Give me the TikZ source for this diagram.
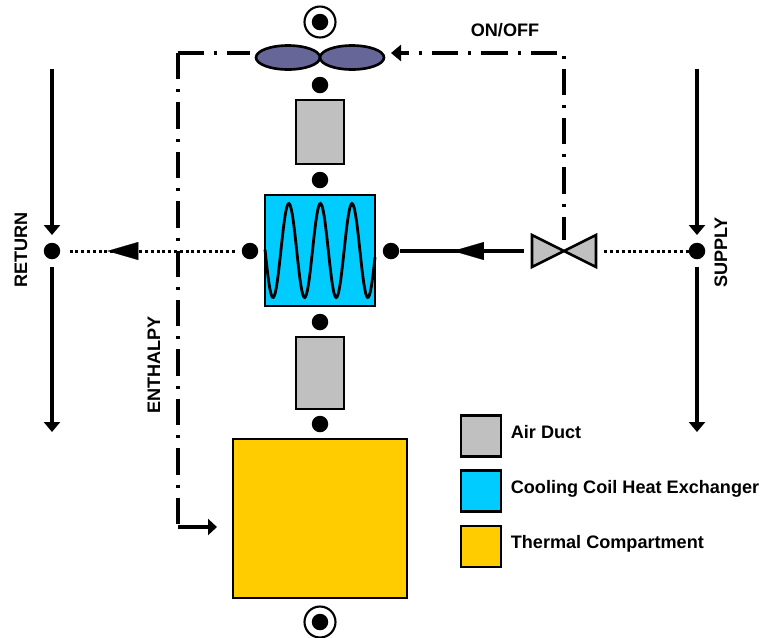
\documentclass[tikz,border=0pt]{standalone}
\usepackage{fontspec}
\setmainfont{Liberation Sans}
\usetikzlibrary{arrows.meta,calc,decorations.markings,shapes.geometric}
\definecolor{ductgray}{HTML}{C0C0C0}
\definecolor{coilblue}{HTML}{00CCFF}
\definecolor{zoneyellow}{HTML}{FFCC00}
\definecolor{fanblue}{HTML}{666699}
\tikzset{
  box/.style={draw=black,line width=1.6pt,inner sep=0pt},
  port/.style={circle,fill=black,inner sep=0pt,minimum size=.33cm},
  ring/.style={circle,draw=black,line width=1.2pt,fill=white,minimum size=.62cm,inner sep=0pt},
  fanblade/.style={box,ellipse,fill=fanblue,minimum width=1.28cm,minimum height=.48cm,line width=1.5pt},
  airline/.style={line width=1.75pt,-{Triangle[length=.2cm,width=.32cm]}},
  signal/.style={line width=1.75pt,dash pattern=on .528cm off .2cm on .06cm off .2cm},
  valvesignal/.style={line width=1.75pt,dash pattern=on .06cm off .2cm on .528cm off .2cm},
  sigtip/.style={-{Triangle[length=.2cm,width=.32cm]}},
  dotline/.style={line width=1.7pt,dash pattern=on .06cm off .056cm},
  midtip/.style={postaction={decorate},decoration={markings,mark=at position #1 with {\arrow[line width=.1pt]{Triangle[length=.62cm,width=.36cm]}}}},
  lab/.style={font=\bfseries\fontsize{10.3pt}{12pt}\selectfont},
  keybox/.style={box,minimum width=.8cm,minimum height=.82cm},
}
\begin{document}
\begin{tikzpicture}[x=.02cm,y=-.02cm]
\useasboundingbox (0,0) rectangle (761,637);
% components
\node[box,fill=ductgray,minimum width=.96cm,minimum height=1.28cm] (duct1) at (320,132) {};
\node[box,fill=coilblue,minimum width=2.2cm,minimum height=2.22cm] (coil) at (320,250.5) {};
\node[box,fill=ductgray,minimum width=.96cm,minimum height=1.44cm] (duct2) at (320,373) {};
\node[box,fill=zoneyellow,minimum width=3.48cm,minimum height=3.18cm] (zone) at (320,518.5) {};
% coil winding
\draw[line width=1.6pt] plot[domain=265:375,samples=120] (\x,{250.5+47*cos((\x-273)*11.39)});
% fan
\node[fanblade] (fanL) at (288,57.5) {};
\node[fanblade] (fanR) at (352,57.5) {};
% valve
\node[minimum width=1.6cm,minimum height=.44cm,inner sep=0pt] (valve) at (564,251) {};
\draw[fill=ductgray,line width=1.5pt,line join=miter] (532,235) -- (596,267) -- (596,235) -- (532,267) -- cycle;
% ports
\foreach \n/\x/\y in {p1/320/85,p2/320/180,p3/320/322,p4/320/424,cl/250/251,cr/391/251,ret/52/251,sup/697/251}{\node[port] (\n) at (\x,\y) {};}
\node[ring] (top) at (320,22) {};
\node[port] at (top.center) {};
\node[ring] (bot) at (320,622) {};
\node[port] at (bot.center) {};
% return and supply
\coordinate (rettop) at (52,69);
\coordinate (retend) at (52,432);
\coordinate (suptop) at (697,69);
\coordinate (supend) at (697,432);
\draw[airline] (rettop) -- (52,235);
\draw[airline] (52,267) -- (retend);
\draw[airline] (suptop) -- (697,235);
\draw[airline] (697,267) -- (supend);
% flow lines
\draw[dotline,midtip=.76] ($(cl)+(-15,0)$) -- ($(ret)+(15,0)$);
\draw[line width=1.75pt,midtip=.57] (valve.west) -- (cr);
\draw[dotline] (valve.east) -- ($(sup)+(-7,0)$);
% signal lines
\coordinate (fanin) at (391,53);
\coordinate (fanout) at (250,53);
\coordinate (corner) at (177.5,53);
\coordinate (cornerlow) at (178,527);
\coordinate (zonein) at (221,527);
\coordinate (valvetop) at (564,55.5);
\coordinate (valvestart) at (557,53);
\draw[valvesignal] (valvetop) -- (valve.north);
\draw[signal,sigtip] (valvestart) -- (fanin);
\draw[signal] (corner) -- (fanout);
\draw[signal] (178,53) -- (178,524);
\draw[line width=1.75pt,-{Triangle[length=.18cm,width=.32cm,sep=.08cm]}] (cornerlow) -- (zonein);
% labels
\node[lab] (onoff) at (505,30) {ON/OFF};
\node[lab,rotate=90] (retlab) at (21,250) {RETURN};
\node[lab,rotate=90] (suplab) at (721,252.5) {SUPPLY};
\node[lab,rotate=90] (enth) at (154,365) {ENTHALPY};
% legend
\node[keybox,fill=ductgray] (key1) at (481,436) {};
\node[keybox,fill=coilblue] (key2) at (481,491) {};
\node[keybox,fill=zoneyellow] (key3) at (481,546.5) {};
\node[lab,anchor=base west,inner sep=0pt] (txt1) at (510.5,438) {Air Duct};
\node[lab,anchor=base west,inner sep=0pt] (txt2) at (510.5,493) {Cooling Coil Heat Exchanger};
\node[lab,anchor=base west,inner sep=0pt] (txt3) at (510.5,548) {Thermal Compartment};
\end{tikzpicture}
\end{document}
